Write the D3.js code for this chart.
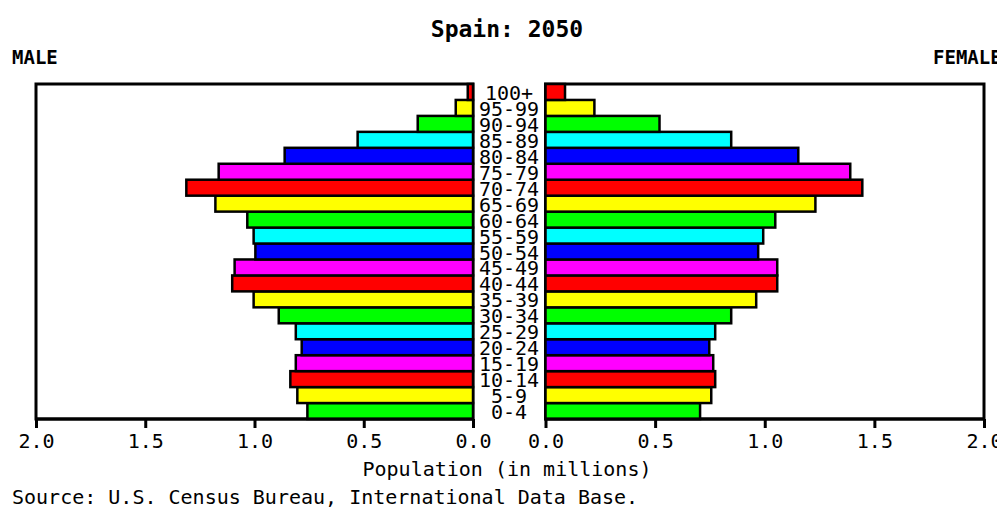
<!DOCTYPE html>
<html>
<head>
<meta charset="utf-8">
<script src="https://cdn.jsdelivr.net/npm/d3@7"></script>
<style>
  body { margin: 0; background: #fff; }
  text { font-family: "DejaVu Sans Mono", monospace; fill: #000; }
</style>
</head>
<body>
<div id="chart-area"></div>
<script>
// age groups, bottom to top
var ages = ["0-4", "5-9", "10-14", "15-19", "20-24", "25-29", "30-34", "35-39",
            "40-44", "45-49", "50-54", "55-59", "60-64", "65-69", "70-74", "75-79",
            "80-84", "85-89", "90-94", "95-99", "100+"];

// population in millions
var male = [0.758, 0.804, 0.836, 0.811, 0.784, 0.811, 0.889, 1.004,
            1.102, 1.091, 0.996, 1.004, 1.033, 1.179, 1.312, 1.164,
            0.862, 0.528, 0.253, 0.079, 0.024];
var female = [0.705, 0.756, 0.774, 0.765, 0.747, 0.774, 0.847, 0.961,
              1.057, 1.057, 0.970, 0.993, 1.048, 1.231, 1.445, 1.390,
              1.153, 0.847, 0.520, 0.223, 0.089];

var ticks = [0, 0.5, 1.0, 1.5, 2.0];
var colors = ["#00ff00", "#ffff00", "#ff0000", "#ff00ff", "#0000ff", "#00ffff"];

var width = 997;
var height = 509;

// note: "top" is taken by window.top
var plotTop = 84, plotBottom = 419;

var svg = d3.select("#chart-area")
    .append("svg")
        .attr("width", width)
        .attr("height", height);

var xl = d3.scaleLinear().domain([0, 2]).range([473, 36]);
var xr = d3.scaleLinear().domain([0, 2]).range([545.5, 984]);

var y = d3.scaleBand()
    .domain(ages.slice().reverse())
    .range([plotTop, plotBottom]);

var data = ages.map((a, i) => { return {age: a, m: male[i], f: female[i], c: colors[i % 6]}; });

// frames
[xl, xr].forEach((s) => {
    svg.append("rect")
        .attr("x", Math.min(s(0), s(2)))
        .attr("y", plotTop)
        .attr("width", Math.abs(s(2) - s(0)))
        .attr("height", plotBottom - plotTop)
        .attr("fill", "none")
        .attr("stroke", "#000")
        .attr("stroke-width", 3);
});

svg.selectAll(".male")
    .data(data)
    .enter()
    .append("rect")
        .attr("class", "male")
        .attr("x", (d) => xl(d.m))
        .attr("y", (d) => y(d.age))
        .attr("width", (d) => xl(0) - xl(d.m))
        .attr("height", y.bandwidth())
        .attr("fill", (d) => d.c)
        .attr("stroke", "#000")
        .attr("stroke-width", 2.5);

svg.selectAll(".female")
    .data(data)
    .enter()
    .append("rect")
        .attr("class", "female")
        .attr("x", xr(0))
        .attr("y", (d) => y(d.age))
        .attr("width", (d) => xr(d.f) - xr(0))
        .attr("height", y.bandwidth())
        .attr("fill", (d) => d.c)
        .attr("stroke", "#000")
        .attr("stroke-width", 2.5);

// axes
[xl, xr].forEach((s) => {
    var axis = d3.axisBottom(s)
        .tickValues(ticks)
        .tickSize(9)
        .tickPadding(6)
        .tickFormat(d3.format(".1f"));
    var g = svg.append("g")
        .attr("transform", "translate(0," + plotBottom + ")")
        .call(axis);
    g.select(".domain")
        .attr("stroke-width", 3)
        .attr("d", "M" + s(0) + ",0H" + s(2));
    g.selectAll(".tick line").attr("stroke-width", 3);
    g.selectAll(".tick text")
        .style("font-family", "DejaVu Sans Mono")
        .attr("font-size", "20px");
});

svg.selectAll(".age")
    .data(data)
    .enter()
    .append("text")
        .attr("class", "age")
        .attr("x", 509)
        .attr("y", (d) => y(d.age) + y.bandwidth() / 2 + 1)
        .attr("dominant-baseline", "central")
        .attr("text-anchor", "middle")
        .attr("font-size", "20px")
        .text((d) => d.age);

svg.append("text")
    .attr("x", 507)
    .attr("y", 37)
    .attr("text-anchor", "middle")
    .attr("font-size", "23px")
    .attr("font-weight", "bold")
    .text("Spain: 2050");

svg.append("text")
    .attr("x", 12)
    .attr("y", 64)
    .attr("font-size", "19px")
    .attr("font-weight", "bold")
    .text("MALE");

svg.append("text")
    .attr("x", 933)
    .attr("y", 64)
    .attr("font-size", "19px")
    .attr("font-weight", "bold")
    .text("FEMALE");

svg.append("text")
    .attr("x", 507)
    .attr("y", 476)
    .attr("text-anchor", "middle")
    .attr("font-size", "20px")
    .text("Population (in millions)");

svg.append("text")
    .attr("x", 12)
    .attr("y", 504)
    .attr("font-size", "20px")
    .text("Source: U.S. Census Bureau, International Data Base.");
</script>
</body>
</html>
